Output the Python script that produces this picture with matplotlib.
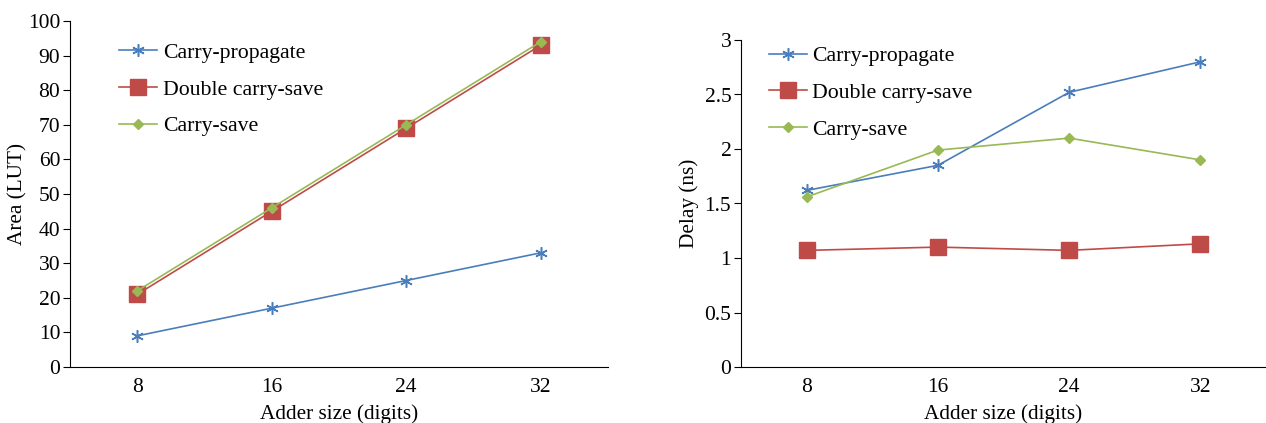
import matplotlib
matplotlib.use("Agg")
import matplotlib.pyplot as plt

sizes = ["8", "16", "24", "32"]
series = ["Carry-propagate", "Double carry-save", "Carry-save"]

area_cp = [9, 17, 25, 33]
area_dcs = [21, 45, 69, 93]
area_cs = [22, 46, 70, 94]

delay_cp = [1.62, 1.85, 2.52, 2.80]
delay_dcs = [1.07, 1.10, 1.07, 1.13]
delay_cs = [1.56, 1.99, 2.10, 1.90]

colors = ["#4a7ebb", "#be4b48", "#98b954"]
markers = ["x", "s", "D"]
msizes = [9, 11, 5]

plt.rcParams["font.family"] = ["Liberation Serif", "DejaVu Serif"]
plt.rcParams["font.size"] = 13

fig = plt.figure(figsize=(12.66, 4.23), dpi=100)
W, H = 1266, 423
ax1 = fig.add_axes([70 / W, 56 / H, 538 / W, 346 / H])
ax2 = fig.add_axes([741 / W, 56 / H, 525 / W, 327 / H])


def draw(ax, data, ylim, yticks, ylabel, leg_anchor, ylpad):
    x = range(len(sizes))
    for vals, name, c, m, ms in zip(data, series, colors, markers, msizes):
        if m == "x":
            ax.plot(x, vals, color=c, lw=1.2, marker=(6, 2, 0), ms=ms,
                    mec=c, mew=1.1, label=name)
        else:
            ax.plot(x, vals, color=c, lw=1.2, marker=m, ms=ms,
                    mfc=c, mec=c, label=name)
    ax.set_xlim(-0.5, 3.5)
    ax.set_ylim(*ylim)
    ax.set_xticks(list(x))
    ax.set_xticklabels(sizes)
    ax.set_yticks(yticks)
    ax.set_yticklabels([f"{t:g}" for t in yticks])
    ax.tick_params(axis="x", length=0, pad=8, labelsize=15.5)
    ax.tick_params(axis="y", length=5, direction="out", pad=2, labelsize=15.5)
    for s in ["top", "right"]:
        ax.spines[s].set_visible(False)
    ax.set_xlabel("Adder size (digits)", fontsize=15.3, labelpad=5)
    ax.set_ylabel(ylabel, fontsize=15.3, labelpad=ylpad)
    ax.legend(loc="upper left", bbox_to_anchor=leg_anchor, frameon=False,
              handlelength=1.75, handletextpad=0.25, labelspacing=0.75,
              fontsize=15.7)


draw(ax1, [area_cp, area_dcs, area_cs], (0, 100), list(range(0, 101, 10)),
     "Area (LUT)", (0.055, 0.994), 0)
draw(ax2, [delay_cp, delay_dcs, delay_cs], (0, 3), [0, 0.5, 1, 1.5, 2, 2.5, 3],
     "Delay (ns)", (0.015, 1.041), 4)

fig.savefig("out.png", dpi=100)
